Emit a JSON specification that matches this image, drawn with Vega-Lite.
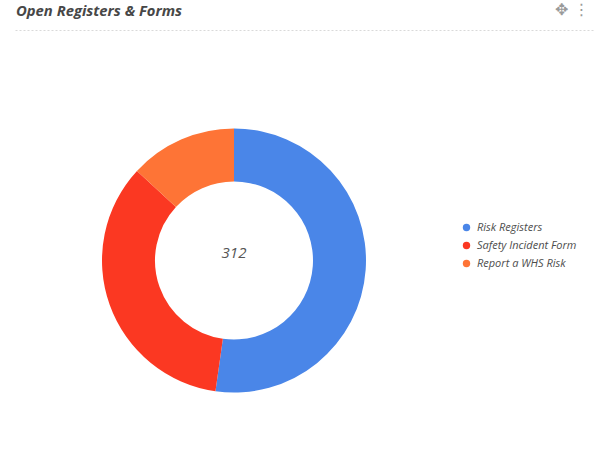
{
  "$schema": "https://vega.github.io/schema/vega-lite/v6.json",
  "autosize": {"type": "none"},
  "width": 578,
  "height": 416,
  "padding": {"left": 15, "top": 30, "right": 16, "bottom": 10},
  "background": "white",
  "config": {
    "view": {"stroke": null},
    "font": "Open Sans"
  },
  "title": {
    "text": "Open Registers & Forms",
    "anchor": "start",
    "frame": "group",
    "font": "Open Sans",
    "fontSize": 14.8,
    "fontWeight": "bold",
    "fontStyle": "italic",
    "color": "#474747",
    "offset": -18,
    "dx": 1
  },
  "data": {
    "values": [
      {"form": "Risk Registers", "count": 163},
      {"form": "Safety Incident Form", "count": 108},
      {"form": "Report a WHS Risk", "count": 41}
    ]
  },
  "encoding": {
    "x": {
      "datum": 0,
      "type": "quantitative",
      "scale": {"domain": [-219, 359], "nice": false, "zero": false},
      "axis": {
        "orient": "top",
        "domain": true,
        "domainColor": "#d9d9d9",
        "domainDash": [2, 2],
        "domainWidth": 1,
        "ticks": false,
        "labels": false,
        "grid": false,
        "title": "✥     ⋮",
        "titleAnchor": "end",
        "titleColor": "#9a9a9a",
        "titleFontSize": 16,
        "titleFont": "DejaVu Sans",
        "titleFontWeight": "normal",
        "titleBaseline": "middle",
        "titleY": -21,
        "titleX": 574
      }
    },
    "y": {
      "datum": 0,
      "type": "quantitative",
      "scale": {"domain": [-185.5, 230.5], "nice": false, "zero": false},
      "axis": null
    }
  },
  "layer": [
    {
      "mark": {"type": "arc", "innerRadius": 79, "outerRadius": 132},
      "encoding": {
        "theta": {"field": "count", "type": "quantitative", "stack": true},
        "order": {"field": "count", "sort": "descending"},
        "color": {
          "field": "form",
          "type": "nominal",
          "scale": {
            "domain": ["Risk Registers", "Safety Incident Form", "Report a WHS Risk"],
            "range": ["#4a86e8", "#fb3822", "#fe7436"]
          },
          "legend": {
            "title": null,
            "orient": "none",
            "legendX": 446,
            "legendY": 192,
            "symbolType": "circle",
            "symbolSize": 55,
            "symbolStrokeWidth": 0,
            "labelFont": "Open Sans",
            "labelFontSize": 11,
            "labelFontStyle": "italic",
            "labelColor": "#4d4d4d",
            "labelOffset": 5,
            "rowPadding": 6,
            "padding": 0
          }
        }
      }
    },
    {
      "mark": {
        "type": "text",
        "font": "Open Sans",
        "fontSize": 15,
        "fontStyle": "italic",
        "color": "#555555",
        "baseline": "middle",
        "align": "center",
        "dy": -8
      },
      "encoding": {
        "text": {"aggregate": "sum", "field": "count", "type": "quantitative"}
      }
    }
  ]
}
